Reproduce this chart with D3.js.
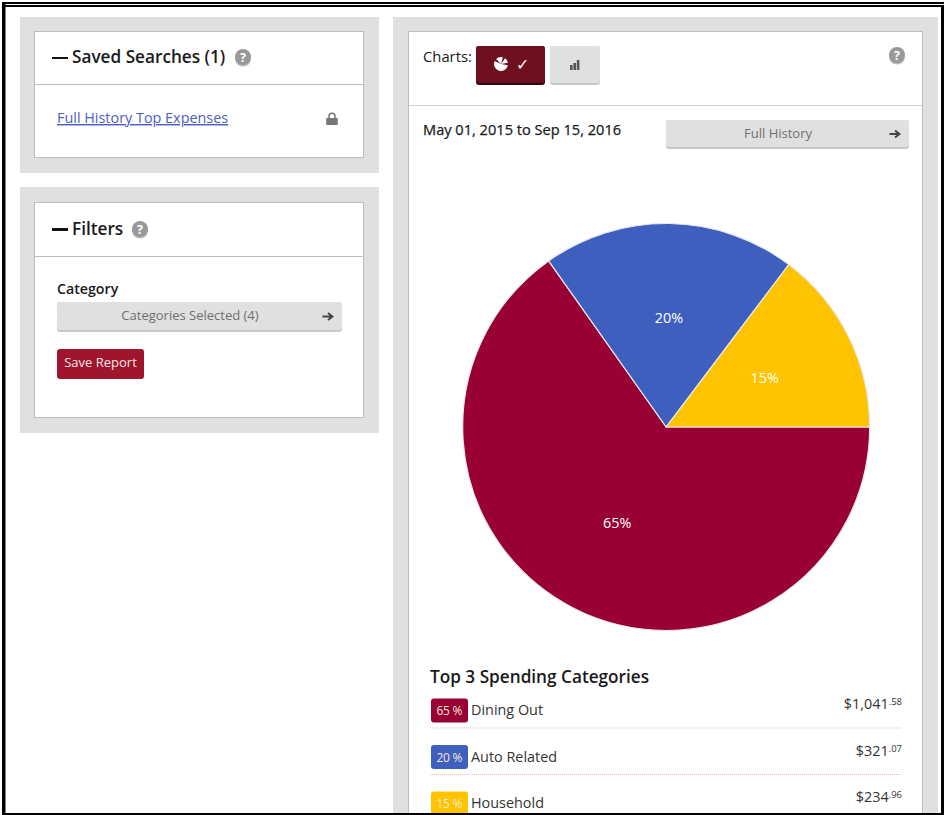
<!DOCTYPE html>
<html>
<head>
<meta charset="utf-8">
<script src="https://cdnjs.cloudflare.com/ajax/libs/d3/7.8.5/d3.min.js"></script>
<style>
html,body{margin:0;padding:0;background:#fff;overflow:hidden}
svg{display:block}
text{font-family:"Open Sans",sans-serif}
</style>
</head>
<body>
<svg id="page" width="944" height="815"></svg>
<script>
// Spending data
const categories = ["Dining Out", "Auto Related", "Household"];
const dollars = [1041, 321, 234];
const cents = ["58", "07", "96"];
const percentLabels = ["65", "20", "15"];
const sliceColors = ["#990033", "#3f5fbf", "#ffc400"];

const amounts = dollars.map((d, i) => d + (+cents[i]) / 100);
const money = d3.format(",");

const svg = d3.select("#page");

function rect(x, y, w, h, fill, opts = {}) {
  return svg.append("rect").attr("x", x).attr("y", y).attr("width", w).attr("height", h)
    .attr("fill", fill).attr("rx", opts.rx || 0)
    .attr("stroke", opts.stroke || "none").attr("stroke-width", opts.sw || 1);
}
function label(x, y, str, size, fill, opts = {}) {
  return svg.append("text").attr("x", x).attr("y", y).text(str)
    .attr("font-size", size).attr("fill", fill)
    .attr("font-weight", opts.weight || 400)
    .attr("text-anchor", opts.anchor || "start");
}
function helpIcon(cx, cy) {
  svg.append("circle").attr("cx", cx).attr("cy", cy + 1.5).attr("r", 8).attr("fill", "#bbb");
  svg.append("circle").attr("cx", cx).attr("cy", cy).attr("r", 8).attr("fill", "#999");
  label(cx, cy + 4.5, "?", 12.5, "#fff", { anchor: "middle", weight: 700 });
}
function arrow(cx, cy) {
  svg.append("path")
    .attr("d", `M${cx - 5.5},${cy}H${cx + 3}M${cx},${cy - 3.5}L${cx + 4.5},${cy}L${cx},${cy + 3.5}`)
    .attr("fill", "none").attr("stroke", "#444").attr("stroke-width", 1.9);
}
function grayButton(x, y, w, h) {
  rect(x, y, w, h, "#c8c8c8", { rx: 3 });
  rect(x, y, w, h - 2, "#e0e0e0", { rx: 3 });
}

// Panel backgrounds and cards
rect(20, 17, 359, 156, "#e0e0e0");
rect(34.5, 31.5, 329, 126, "#fff", { stroke: "#bdbdbd" });
rect(35, 84, 328, 1, "#bdbdbd");

rect(20, 187, 359, 246, "#e0e0e0");
rect(34.5, 202.5, 329, 215, "#fff", { stroke: "#bdbdbd" });
rect(35, 256, 328, 1, "#bdbdbd");

rect(393, 17, 545, 800, "#e0e0e0");
rect(408.5, 31.5, 514, 800, "#fff", { stroke: "#bdbdbd" });
rect(409, 105, 513, 1, "#cfcfcf");

// Saved searches card
rect(52, 57, 16, 2, "#111");
label(72, 63, "Saved Searches (1)", 17.2, "#1a1a1a", { weight: 600 });
helpIcon(243, 57);
label(57, 123, "Full History Top Expenses", 14.4, "#4a5fc1").attr("text-decoration", "underline");
svg.append("path")
  .attr("d", "M327,118h10a.8.8 0 0 1 .8.8v5.4a.8.8 0 0 1-.8.8h-10a.8.8 0 0 1-.8-.8v-5.4a.8.8 0 0 1 .8-.8z")
  .attr("fill", "#777");
svg.append("path").attr("d", "M329,118.5v-2.3a3,3 0 0 1 6,0v2.3")
  .attr("fill", "none").attr("stroke", "#777").attr("stroke-width", 1.5);

// Filters card
rect(52, 228, 16, 3, "#111");
label(72, 235, "Filters", 17.2, "#1a1a1a", { weight: 600 });
helpIcon(140, 229);
label(57, 294, "Category", 14.2, "#1a1a1a", { weight: 600 });
grayButton(57, 302, 285, 30);
label(190, 320, "Categories Selected (4)", 13, "#6f6f6f", { anchor: "middle" });
arrow(328, 316.5);
rect(57, 349, 87, 30, "#a0152e", { rx: 3 });
label(100.5, 367, "Save Report", 13, "#f3e6e8", { anchor: "middle" });

// Chart type toggles
label(423, 62, "Charts:", 14.8, "#1a1a1a");
rect(476, 46, 69, 39, "#2d0a10", { rx: 3 });
rect(476, 46, 69, 37, "#6e0f20", { rx: 3 });
const toggleArc = d3.arc().innerRadius(0).outerRadius(7);
d3.pie().sort(null).startAngle(Math.PI / 2).endAngle(Math.PI * 2.5).padAngle(0.35)(amounts)
  .forEach(d => svg.append("path").attr("transform", "translate(501,64)").attr("d", toggleArc(d)).attr("fill", "#fff"));
label(522, 70, "✓", 16, "#fff", { anchor: "middle" });
grayButton(550, 46, 50, 39);
const barIconHeights = [5, 7, 10];
barIconHeights.forEach((h, i) => rect(570 + i * 3.4, 70 - h, 2.6, h, "#555"));
helpIcon(897, 55);

// Date range row
label(423, 135, "May 01, 2015 to Sep 15, 2016", 14.6, "#1a1a1a", { weight: 400 })
  .attr("stroke", "#1a1a1a").attr("stroke-width", 0.25);
grayButton(666, 120, 243, 29);
label(778, 138, "Full History", 13, "#6f6f6f", { anchor: "middle" });
arrow(895, 134);

// Pie chart, first slice starts at three o'clock and runs clockwise
const pieX = 666.2, pieY = 427, pieR = 203.5;
const pie = d3.pie().sort(null).startAngle(Math.PI / 2).endAngle(Math.PI * 2.5);
const arc = d3.arc().innerRadius(0).outerRadius(pieR);
const labelArc = d3.arc().innerRadius(109).outerRadius(109);
const pieGroup = svg.append("g").attr("transform", `translate(${pieX},${pieY})`);
const slices = pie(amounts);
pieGroup.selectAll("path").data(slices).join("path")
  .attr("d", arc)
  .attr("fill", (d, i) => sliceColors[i])
  .attr("stroke", "#e8e8f0").attr("stroke-width", 1.2);
pieGroup.selectAll("text").data(slices).join("text")
  .attr("transform", d => `translate(${labelArc.centroid(d)})`)
  .attr("x", 1).attr("y", -0.5)
  .attr("dy", "0.35em").attr("text-anchor", "middle")
  .attr("font-size", 14.4).attr("fill", "#fff")
  .text((d, i) => percentLabels[i] + "%");

// Top spending list
label(430, 683, "Top 3 Spending Categories", 17.2, "#1a1a1a", { weight: 600 });
const rowY = d3.scalePoint().domain(categories).range([698.5, 791.5]);
categories.forEach((name, i) => {
  const y = rowY(name);
  rect(431, y, 37, 24, sliceColors[i], { rx: 3 });
  label(449.5, y + 16.5, percentLabels[i] + " %", 12, "#f4e9d8", { anchor: "middle" }).attr("textLength", 26);
  label(471, y + 16.5, name, 14.4, "#333");
  const amount = svg.append("text").attr("x", 902).attr("y", y + 10.5)
    .attr("text-anchor", "end").attr("font-size", 14.4).attr("fill", "#333");
  amount.append("tspan").text("$" + money(dollars[i]));
  amount.append("tspan").text("." + cents[i]).attr("font-size", 9.5).attr("dy", -4);
  if (i < categories.length - 1) {
    svg.append("line").attr("x1", 430).attr("x2", 902)
      .attr("y1", y + 29.5).attr("y2", y + 29.5)
      .attr("stroke", "#e3bcc8").attr("stroke-width", 1).attr("stroke-dasharray", "1 1");
  }
});

// Outer frame
rect(0, 0, 944, 2, "#fff");
rect(2, 2, 942, 2, "#000");
rect(3, 5, 941, 2, "#000");
rect(2, 2, 3.5, 813, "#000");
rect(941, 5, 3, 810, "#000");
rect(2, 813, 942, 2, "#000");
</script>
</body>
</html>
